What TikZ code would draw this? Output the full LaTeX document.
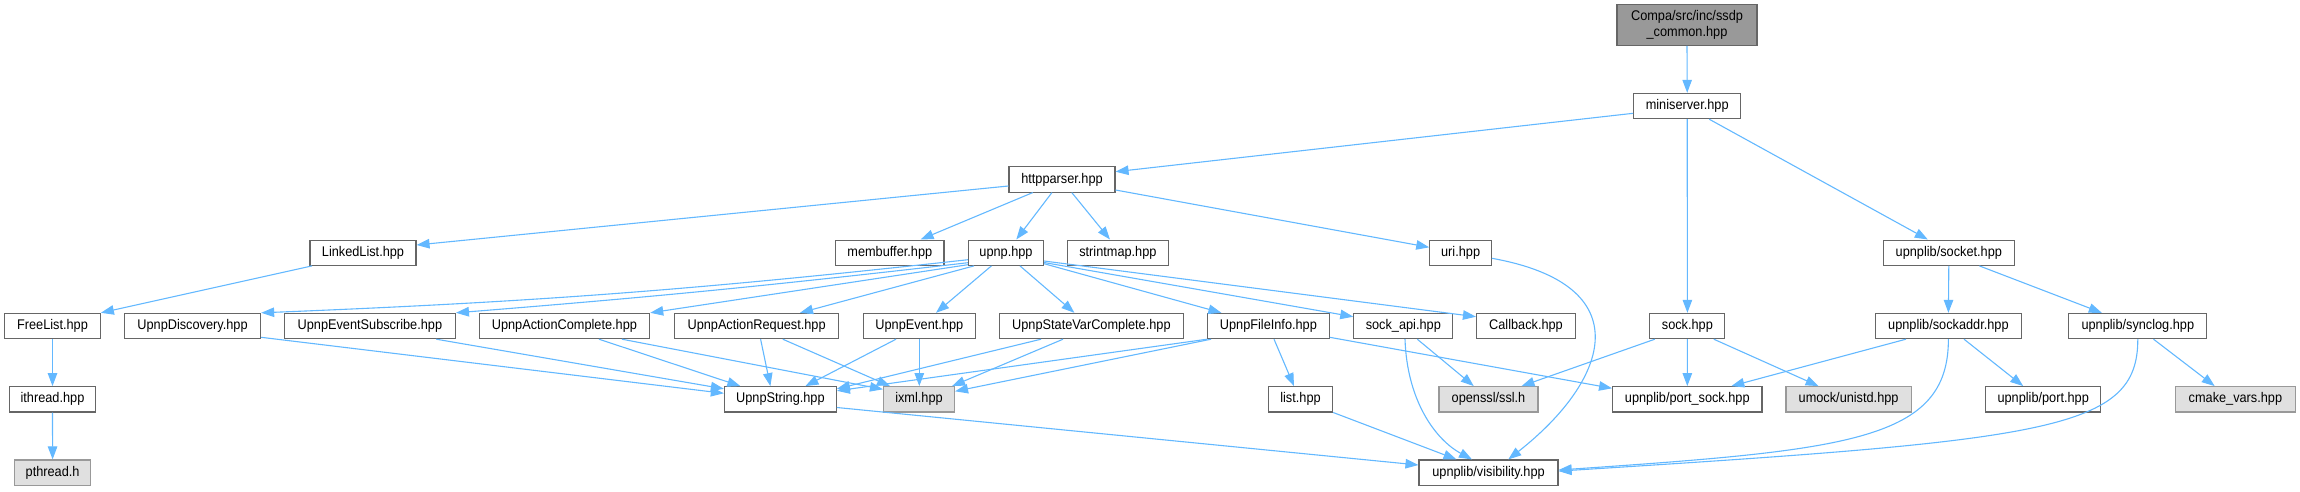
\documentclass[tikz,border=0pt]{standalone}
\usepackage{fontspec}
\setmainfont{Liberation Sans}[FakeStretch=0.91]
\usetikzlibrary{arrows.meta,calc}
\definecolor{cforty}{HTML}{666666}
\definecolor{csixty}{HTML}{999999}
\definecolor{cninety}{HTML}{E0E0E0}
\definecolor{eblue}{HTML}{63B8FF}
\newcommand{\nodefont}{\fontsize{14pt}{15.5pt}\selectfont}
\begin{document}
\begin{tikzpicture}[x=1pt,y=-1pt,
 box/.style={draw=cforty, fill=white, line width=1.1pt, inner sep=0pt, minimum height=25.3pt, font=\nodefont},
 ext/.style={box, draw=csixty, fill=cninety},
 rootbox/.style={box, draw=cforty, fill=csixty},
 edge/.style={draw=eblue, line width=1.1pt, -{Triangle[length=13pt,width=9.5pt]}}]
\useasboundingbox (0,0) rectangle (2300,491);
% nodes
\node[rootbox, minimum width=140pt, minimum height=40.6pt, align=center] (root) at (1687,25) {Compa/src/inc/ssdp\\\_common.hpp};
\node[box, minimum width=107pt] (mini) at (1687.2,106) {miniserver.hpp};
\node[box, minimum width=106pt] (http) at (1062,179.4) {httpparser.hpp};
\node[box, minimum width=106pt] (ll) at (363,252.7) {LinkedList.hpp};
\node[box, minimum width=108.4pt] (memb) at (889.8,252.7) {membuffer.hpp};
\node[box, minimum width=75pt] (upnp) at (1006,252.7) {upnp.hpp};
\node[box, minimum width=101.4pt] (strm) at (1117.9,252.7) {strintmap.hpp};
\node[box, minimum width=61.6pt] (uri) at (1460.6,252.7) {uri.hpp};
\node[box, minimum width=131pt] (socket) at (1948.8,252.7) {upnplib/socket.hpp};
\node[box, minimum width=95.7pt] (fl) at (52.5,326) {FreeList.hpp};
\node[box, minimum width=136.2pt] (ud) at (192.5,326) {UpnpDiscovery.hpp};
\node[box, minimum width=171pt] (ues) at (369.9,326) {UpnpEventSubscribe.hpp};
\node[box, minimum width=170.6pt] (uac) at (564.4,326) {UpnpActionComplete.hpp};
\node[box, minimum width=164pt] (uar) at (756.6,326) {UpnpActionRequest.hpp};
\node[box, minimum width=112pt] (ue) at (919.3,326) {UpnpEvent.hpp};
\node[box, minimum width=184.7pt] (svc) at (1091.4,326) {UpnpStateVarComplete.hpp};
\node[box, minimum width=121.7pt] (ufi) at (1268.4,326) {UpnpFileInfo.hpp};
\node[box, minimum width=99pt] (sa) at (1403.3,326) {sock\_api.hpp};
\node[box, minimum width=99pt] (cb) at (1526,326) {Callback.hpp};
\node[box, minimum width=75pt] (sock) at (1687.4,326) {sock.hpp};
\node[box, minimum width=145.4pt] (saddr) at (1948.4,326) {upnplib/sockaddr.hpp};
\node[box, minimum width=137.8pt] (slog) at (2137.8,326) {upnplib/synclog.hpp};
\node[box, minimum width=86.5pt] (ith) at (52.5,399.3) {ithread.hpp};
\node[box, minimum width=112pt] (us) at (780.4,399.3) {UpnpString.hpp};
\node[ext, minimum width=71pt] (ixml) at (919,399.3) {ixml.hpp};
\node[box, minimum width=64.3pt] (list) at (1300.5,399.3) {list.hpp};
\node[ext, minimum width=99pt] (ssl) at (1488.5,399.3) {openssl/ssl.h};
\node[box, minimum width=149.4pt] (psock) at (1687.3,399.3) {upnplib/port\_sock.hpp};
\node[ext, minimum width=125.2pt] (umock) at (1848.6,399.3) {umock/unistd.hpp};
\node[box, minimum width=114.8pt] (port) at (2043.2,399.3) {upnplib/port.hpp};
\node[ext, minimum width=119.4pt] (cmake) at (2235.4,399.3) {cmake\_vars.hpp};
\node[ext, minimum width=76.2pt] (pth) at (52.6,472.6) {pthread.h};
\node[box, minimum width=139pt] (vis) at (1488.5,472.6) {upnplib/visibility.hpp};
% edges
\draw[edge] (root.south) -- (mini.north);
\draw[edge] ([yshift=-7.3pt]mini.west) -- ([yshift=7.7pt]http.east);
\draw[edge] (mini.south) -- (sock.north);
\draw[edge] ([xshift=22pt]mini.south) -- ([xshift=-21pt]socket.north);
\draw[edge] ([yshift=-6.6pt]http.west) -- ([yshift=7.7pt]ll.east);
\draw[edge] ([xshift=-29.3pt]http.south) -- ([xshift=30.8pt]memb.north);
\draw[edge] ([xshift=-10.1pt]http.south) -- ([xshift=10.3pt]upnp.north);
\draw[edge] ([xshift=9.8pt]http.south) -- ([xshift=-7.9pt]strm.north);
\draw[edge] ([yshift=-10.6pt]http.east) -- ([yshift=5.4pt]uri.west);
\draw[edge] ([xshift=-51pt]ll.south) -- (fl.north east);
\draw[edge] (fl.south) -- (ith.north);
\draw[edge] (ith.south) -- (pth.north);
\draw[edge] ([yshift=-7pt]upnp.west) to[bend left=2] (ud.north east);
\draw[edge] ([yshift=-10pt]upnp.west) to[bend left=1] (ues.north east);
\draw[edge] ([yshift=-12pt]upnp.west) -- (uac.north east);
\draw[edge] ([xshift=6pt]upnp.south west) -- ([xshift=43.4pt]uar.north);
\draw[edge] ([xshift=-14.6pt]upnp.south) -- ([xshift=16.7pt]ue.north);
\draw[edge] ([xshift=14pt]upnp.south) -- ([xshift=-17pt]svc.north);
\draw[edge] ([yshift=-11pt]upnp.east) -- ([xshift=-47pt]ufi.north);
\draw[edge] ([yshift=-9.8pt]upnp.east) -- ([yshift=9.3pt]sa.west);
\draw[edge] ([yshift=-8.3pt]upnp.east) -- ([yshift=9.3pt]cb.west);
\draw[edge] ([yshift=-11.3pt]ud.east) -- ([yshift=6pt]us.west);
\draw[edge] ([xshift=66.4pt]ues.south) -- ([yshift=10.5pt]us.west);
\draw[edge] ([xshift=34.6pt]uac.south) -- ([xshift=-40pt]us.north);
\draw[edge] ([xshift=57.6pt]uac.south) -- ([yshift=10pt]ixml.west);
\draw[edge] ([xshift=4pt]uar.south) -- ([xshift=-10pt]us.north);
\draw[edge] ([xshift=26.2pt]uar.south) -- ([xshift=-29pt]ixml.north);
\draw[edge] ([xshift=-23.3pt]ue.south) -- ([xshift=25pt]us.north);
\draw[edge] (ue.south) -- (ue.south |- ixml.north);
\draw[edge] ([xshift=-50.4pt]svc.south) -- ([yshift=10.5pt]us.east);
\draw[edge] ([xshift=-28.4pt]svc.south) -- ([xshift=-3pt]ixml.north east);
\draw[edge] (ufi.south west) -- ([yshift=8.5pt]us.east);
\draw[edge] ([xshift=4pt]ufi.south west) -- ([yshift=8pt]ixml.east);
\draw[edge] ([xshift=5.6pt]ufi.south) -- ([xshift=-6.5pt]list.north);
\draw[edge] ([yshift=-11.3pt]ufi.east) -- ([yshift=11pt]psock.west);
\draw[edge] ([xshift=14pt]sa.south) -- ([xshift=-14.7pt]ssl.north);
\draw[edge] ([xshift=1.7pt]sa.south) .. controls ($(sa.south)+(3.7,61)$) and ($(vis.north)+(-53.5,-20)$) .. ([xshift=-16.5pt]vis.north);
\draw[edge] ([yshift=-5.6pt]uri.east) .. controls ($(uri.east)+(148.6,32.3)$) and ($(vis.north)+(121.5,-80)$) .. ([xshift=19.8pt]vis.north);
\draw[edge] (list.south east) -- ([xshift=-32pt]vis.north);
\draw[edge] ([yshift=-8.2pt]us.east) -- ([yshift=7.6pt]vis.west);
\draw[edge] ([xshift=-32.6pt]sock.south) -- ([xshift=33pt]ssl.north);
\draw[edge] (sock.south) -- (psock.north);
\draw[edge] ([xshift=26.4pt]sock.south) -- ([xshift=-30pt]umock.north);
\draw[edge] ([xshift=-42.5pt]saddr.south) -- ([xshift=44pt]psock.north);
\draw[edge] ([xshift=15.6pt]saddr.south) -- ([xshift=-20pt]port.north);
\draw[edge] (saddr.south) .. controls ($(saddr.south)+(0,101)$) and ($(vis.east)+(292,-22.6)$) .. ([yshift=2.6pt]vis.east);
\draw[edge] (slog.south) .. controls ($(slog.south)+(0,91)$) and ($(vis.east)+(492,-32.6)$) .. ([yshift=1.5pt]vis.east);
\draw[edge] (socket.south) -- (saddr.north);
\draw[edge] ([xshift=30.6pt]socket.south) -- ([xshift=-36pt]slog.north);
\draw[edge] ([xshift=15.7pt]slog.south) -- ([xshift=-20.7pt]cmake.north);
\end{tikzpicture}
\end{document}
